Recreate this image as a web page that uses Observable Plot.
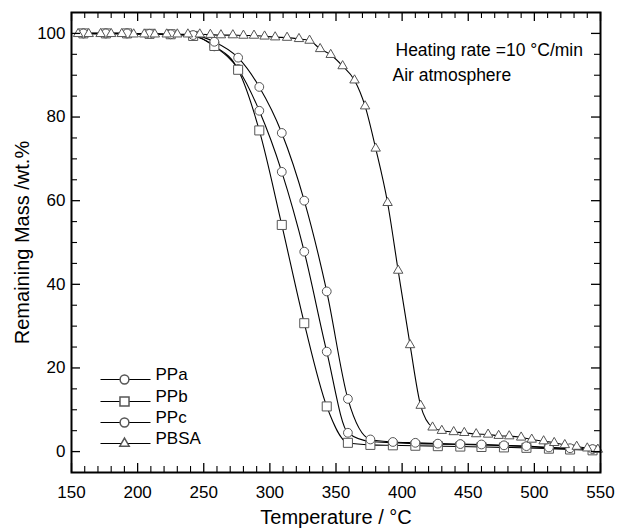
<!DOCTYPE html>
<html><head><meta charset="utf-8">
<script src="https://cdn.jsdelivr.net/npm/d3@7"></script>
<script src="https://cdn.jsdelivr.net/npm/@observablehq/plot@0.6"></script>
<style>body{margin:0;background:#fff;}</style>
</head><body><div id="chart"></div>
<script>
// Sample temperatures (°C) for PPa, PPb, PPc markers
const temps = [159, 176, 192, 209, 225, 242, 258, 276, 292, 309, 326, 343, 359, 376, 393, 410, 427, 444, 460, 477, 494, 511, 527, 544];
const ppaMass = [100, 100, 100, 99.9, 99.8, 99.5, 96.9, 91.5, 81.5, 66.9, 47.8, 23.9, 4.5, 2.4, 2.1, 1.9, 1.8, 1.7, 1.6, 1.4, 1.2, 0.9, 0.7, 0.5];
const ppbMass = [100, 100, 100, 99.9, 99.8, 99.4, 97.0, 91.3, 76.8, 54.2, 30.7, 10.8, 2.1, 1.6, 1.5, 1.4, 1.3, 1.2, 1.1, 1.0, 0.9, 0.7, 0.5, 0.3];
const ppcMass = [100, 100, 100, 99.9, 99.8, 99.6, 98.0, 94.2, 87.2, 76.2, 60.0, 38.3, 12.6, 2.9, 2.3, 2.1, 1.9, 1.8, 1.7, 1.5, 1.3, 1.0, 0.8, 0.6];
// PBSA
const pbsaTemps = [155, 163, 172, 180, 188, 197, 205, 213, 222, 230, 238, 247, 255, 263, 272, 280, 288, 296, 304, 313, 322, 330, 338, 346, 355, 364, 372, 380, 389, 397, 406, 414, 423, 430, 439, 447, 456, 465, 473, 481, 490, 498, 507, 515, 523, 532, 540, 548];
const pbsaMass = [99.9, 99.9, 99.9, 99.9, 99.9, 99.8, 99.8, 99.8, 99.8, 99.8, 99.8, 99.8, 99.7, 99.6, 99.6, 99.5, 99.5, 99.3, 99.1, 99.0, 98.7, 98.3, 96.3, 94.9, 92.2, 88.8, 82.6, 72.5, 59.5, 43.3, 25.5, 11.0, 5.8, 5.0, 4.7, 4.5, 4.2, 4.1, 3.8, 3.7, 3.4, 2.9, 2.5, 2.1, 1.6, 1.2, 0.8, 0.5];

const seriesNames = ["PPa", "PPb", "PPc", "PBSA"];
const seriesSymbols = ["circle", "square", "circle", "triangle"];
const xMajor = [150, 200, 250, 300, 350, 400, 450, 500, 550];
const xMinor = [160,170,180,190,210,220,230,240,260,270,280,290,310,320,330,340,360,370,380,390,410,420,430,440,460,470,480,490,510,520,530,540];
const yMajor = [0, 20, 40, 60, 80, 100];
const yMinor = [5, 10, 15, 25, 30, 35, 45, 50, 55, 65, 70, 75, 85, 90, 95];
const xLabel = "Temperature / °C";
const yLabel = "Remaining Mass /wt.%";
const notes = ["Heating rate =10 °C/min", "Air atmosphere"];

const series = [
  {name: "PPa", data: temps.map((t, i) => ({t, m: ppaMass[i]}))},
  {name: "PPb", data: temps.map((t, i) => ({t, m: ppbMass[i]}))},
  {name: "PPc", data: temps.map((t, i) => ({t, m: ppcMass[i]}))},
  {name: "PBSA", data: pbsaTemps.map((t, i) => ({t, m: pbsaMass[i]}))}
];

const W = 620, H = 530, mL = 71, mR = 20, mT = 12, mB = 58;
const fw = W - mL - mR, fh = H - mT - mB;
const major = 9, minor = 6;
const markerR = {circle: 4.4, square: 5.1, triangle: 3.5};
const markerStroke = "#555";
const lineSym = {draw(ctx) { ctx.moveTo(-25, 0); ctx.lineTo(25, 0); }};

const marks = [];
series.forEach(s => {
  marks.push(Plot.line(s.data, {x: "t", y: "m", curve: "monotone-x", stroke: "black", strokeWidth: 1.1}));
});
series.forEach((s, i) => {
  const sym = seriesSymbols[i];
  marks.push(Plot.dot(s.data, {x: "t", y: "m", symbol: sym, r: markerR[sym], stroke: markerStroke, strokeWidth: 1, fill: "white"}));
});
marks.push(
  Plot.tickX(xMajor, {x: d => d, insetTop: fh - major, stroke: "black", strokeWidth: 1.3}),
  Plot.tickX(xMajor, {x: d => d, insetBottom: fh - major, stroke: "black", strokeWidth: 1.3}),
  Plot.tickX(xMinor, {x: d => d, insetTop: fh - minor, stroke: "black", strokeWidth: 1.1}),
  Plot.tickX(xMinor, {x: d => d, insetBottom: fh - minor, stroke: "black", strokeWidth: 1.1}),
  Plot.tickY(yMajor, {y: d => d, insetRight: fw - major, stroke: "black", strokeWidth: 1.3}),
  Plot.tickY(yMajor, {y: d => d, insetLeft: fw - major, stroke: "black", strokeWidth: 1.3}),
  Plot.tickY(yMinor, {y: d => d, insetRight: fw - minor, stroke: "black", strokeWidth: 1.1}),
  Plot.tickY(yMinor, {y: d => d, insetLeft: fw - minor, stroke: "black", strokeWidth: 1.1}),
  Plot.frame({stroke: "black", strokeWidth: 2})
);
marks.push(
  Plot.axisX(xMajor, {tickSize: 0, tickPadding: 13, fontSize: 17, label: null}),
  Plot.axisY(yMajor, {tickSize: 0, tickPadding: 6, fontSize: 17, label: null})
);
marks.push(
  Plot.text([xLabel], {text: d => d, frameAnchor: "bottom", dy: 51, fontSize: 20}),
  Plot.text([yLabel], {text: d => d, frameAnchor: "left", dx: -49, rotate: -90, textAnchor: "middle", lineAnchor: "middle", fontSize: 20})
);
marks.push(
  Plot.text([notes[0]], {text: d => d, frameAnchor: "top-left", dx: 324, dy: 31, textAnchor: "start", fontSize: 17.5}),
  Plot.text([notes[1]], {text: d => d, frameAnchor: "top-left", dx: 321, dy: 56, textAnchor: "start", fontSize: 17.5})
);
const rowDy = [-93, -71, -50, -29];
seriesNames.forEach((name, i) => {
  const sym = seriesSymbols[i];
  marks.push(
    Plot.dot([name], {frameAnchor: "bottom-left", dx: 54, dy: rowDy[i], symbol: lineSym, stroke: "black", strokeWidth: 1, fill: "none"}),
    Plot.dot([name], {frameAnchor: "bottom-left", dx: 53, dy: rowDy[i], symbol: sym, r: markerR[sym], stroke: markerStroke, fill: "white"}),
    Plot.text([name], {text: d => d, frameAnchor: "bottom-left", dx: 84, dy: rowDy[i], textAnchor: "start", fontSize: 17})
  );
});

const chart = Plot.plot({
  width: W, height: H,
  marginLeft: mL, marginRight: mR, marginTop: mT, marginBottom: mB,
  style: {fontFamily: "'Liberation Sans', Arial, sans-serif", fontSize: "17px", color: "black", background: "white"},
  x: {domain: [150, 550], axis: null},
  y: {domain: [-5, 105], axis: null},
  marks
});
document.getElementById("chart").append(chart);
</script>
</body></html>
